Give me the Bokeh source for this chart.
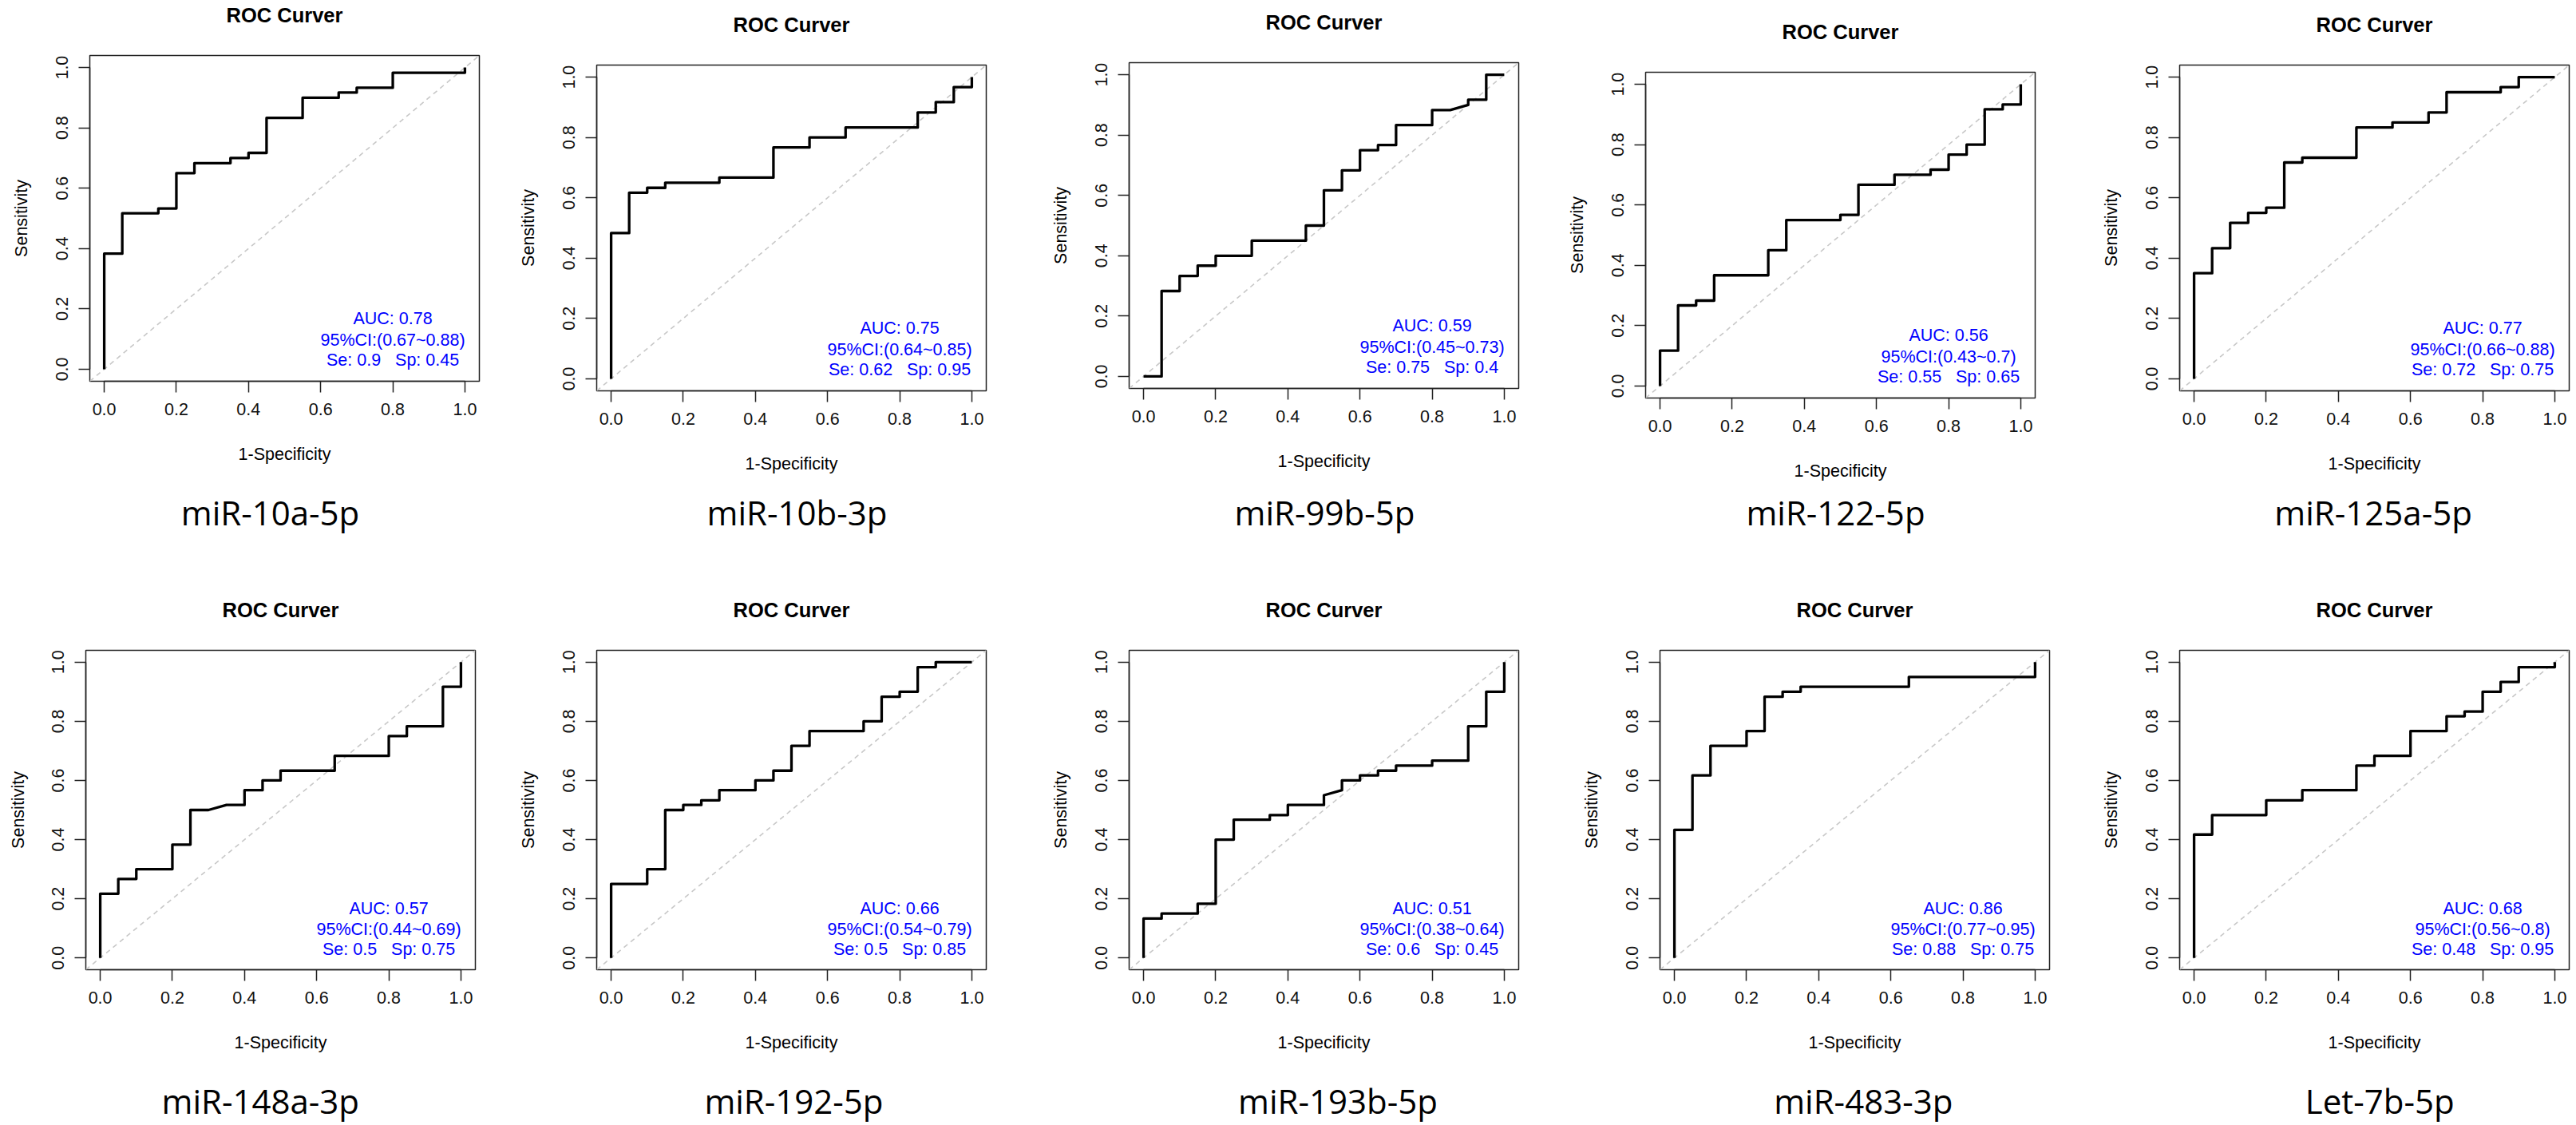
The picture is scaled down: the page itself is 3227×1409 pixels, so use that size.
import math
from bokeh.plotting import figure
from bokeh.models import (Slope, FixedTicker, NumeralTickFormatter, Range1d, LinearAxis,
                          CustomJSTickFormatter)
from bokeh.layouts import row, column
from bokeh.embed import file_html
from bokeh.resources import INLINE
from bokeh.core.properties import value

# ---------------- data ----------------
names = ["miR-10a-5p", "miR-10b-3p", "miR-99b-5p", "miR-122-5p", "miR-125a-5p",
         "miR-148a-3p", "miR-192-5p", "miR-193b-5p", "miR-483-3p", "Let-7b-5p"]
auc = [0.78, 0.75, 0.59, 0.56, 0.77, 0.57, 0.66, 0.51, 0.86, 0.68]
ci_low = [0.67, 0.64, 0.45, 0.43, 0.66, 0.44, 0.54, 0.38, 0.77, 0.56]
ci_high = [0.88, 0.85, 0.73, 0.7, 0.88, 0.69, 0.79, 0.64, 0.95, 0.8]
se = [0.9, 0.62, 0.75, 0.55, 0.72, 0.5, 0.5, 0.6, 0.88, 0.48]
sp = [0.45, 0.95, 0.4, 0.65, 0.75, 0.75, 0.85, 0.45, 0.75, 0.95]
tick_values = [0.0, 0.2, 0.4, 0.6, 0.8, 1.0]

# ROC points (1-specificity, sensitivity)
fpr_10a = [0, 0, 0.05, 0.05, 0.15, 0.15, 0.2, 0.2, 0.25, 0.25, 0.35, 0.35, 0.4, 0.4, 0.45, 0.45,
           0.55, 0.55, 0.65, 0.65, 0.7, 0.7, 0.8, 0.8, 1.0, 1.0]
tpr_10a = [0, 0.383, 0.383, 0.517, 0.517, 0.533, 0.533, 0.65, 0.65, 0.683, 0.683, 0.70, 0.70, 0.717,
           0.717, 0.833, 0.833, 0.90, 0.90, 0.917, 0.917, 0.933, 0.933, 0.983, 0.983, 1.0]

fpr_10b = [0, 0, 0.05, 0.05, 0.1, 0.1, 0.15, 0.15, 0.3, 0.3, 0.45, 0.45, 0.55, 0.55, 0.65, 0.65,
           0.85, 0.85, 0.9, 0.9, 0.95, 0.95, 1.0, 1.0]
tpr_10b = [0, 0.483, 0.483, 0.617, 0.617, 0.633, 0.633, 0.65, 0.65, 0.667, 0.667, 0.767, 0.767,
           0.80, 0.80, 0.833, 0.833, 0.883, 0.883, 0.917, 0.917, 0.967, 0.967, 1.0]

fpr_99b = [0, 0.05, 0.05, 0.1, 0.1, 0.15, 0.15, 0.2, 0.2, 0.3, 0.3, 0.45, 0.45, 0.5, 0.5, 0.55,
           0.55, 0.6, 0.6, 0.65, 0.65, 0.7, 0.7, 0.8, 0.8, 0.85, 0.9, 0.9, 0.95, 0.95, 1.0]
tpr_99b = [0, 0, 0.283, 0.283, 0.333, 0.333, 0.367, 0.367, 0.40, 0.40, 0.45, 0.45, 0.50, 0.50,
           0.617, 0.617, 0.683, 0.683, 0.75, 0.75, 0.767, 0.767, 0.833, 0.833, 0.883, 0.883,
           0.90, 0.917, 0.917, 1.0, 1.0]

fpr_122 = [0, 0, 0.05, 0.05, 0.1, 0.1, 0.15, 0.15, 0.3, 0.3, 0.35, 0.35, 0.5, 0.5, 0.55, 0.55,
           0.65, 0.65, 0.75, 0.75, 0.8, 0.8, 0.85, 0.85, 0.9, 0.9, 0.95, 0.95, 1.0, 1.0]
tpr_122 = [0, 0.117, 0.117, 0.267, 0.267, 0.283, 0.283, 0.367, 0.367, 0.45, 0.45, 0.55, 0.55,
           0.567, 0.567, 0.667, 0.667, 0.70, 0.70, 0.717, 0.717, 0.767, 0.767, 0.80, 0.80, 0.917,
           0.917, 0.933, 0.933, 1.0]

fpr_125a = [0, 0, 0.05, 0.05, 0.1, 0.1, 0.15, 0.15, 0.2, 0.2, 0.25, 0.25, 0.3, 0.3, 0.45, 0.45,
            0.55, 0.55, 0.65, 0.65, 0.7, 0.7, 0.85, 0.85, 0.9, 0.9, 1.0]
tpr_125a = [0, 0.35, 0.35, 0.433, 0.433, 0.517, 0.517, 0.55, 0.55, 0.567, 0.567, 0.717, 0.717,
            0.733, 0.733, 0.833, 0.833, 0.85, 0.85, 0.883, 0.883, 0.95, 0.95, 0.967, 0.967, 1.0, 1.0]

fpr_148a = [0, 0, 0.05, 0.05, 0.1, 0.1, 0.2, 0.2, 0.25, 0.25, 0.3, 0.35, 0.4, 0.4, 0.45, 0.45,
            0.5, 0.5, 0.65, 0.65, 0.8, 0.8, 0.85, 0.85, 0.95, 0.95, 1.0, 1.0]
tpr_148a = [0, 0.217, 0.217, 0.267, 0.267, 0.30, 0.30, 0.383, 0.383, 0.50, 0.50, 0.517, 0.517,
            0.567, 0.567, 0.60, 0.60, 0.633, 0.633, 0.683, 0.683, 0.75, 0.75, 0.783, 0.783, 0.917,
            0.917, 1.0]

fpr_192 = [0, 0, 0.1, 0.1, 0.15, 0.15, 0.2, 0.2, 0.25, 0.25, 0.3, 0.3, 0.4, 0.4, 0.45, 0.45,
           0.5, 0.5, 0.55, 0.55, 0.7, 0.7, 0.75, 0.75, 0.8, 0.8, 0.85, 0.85, 0.9, 0.9, 1.0]
tpr_192 = [0, 0.25, 0.25, 0.30, 0.30, 0.50, 0.50, 0.517, 0.517, 0.533, 0.533, 0.567, 0.567, 0.60,
           0.60, 0.633, 0.633, 0.717, 0.717, 0.767, 0.767, 0.80, 0.80, 0.883, 0.883, 0.90, 0.90,
           0.983, 0.983, 1.0, 1.0]

fpr_193b = [0, 0, 0.05, 0.05, 0.15, 0.15, 0.2, 0.2, 0.25, 0.25, 0.35, 0.35, 0.4, 0.4, 0.5, 0.5,
            0.55, 0.55, 0.6, 0.6, 0.65, 0.65, 0.7, 0.7, 0.8, 0.8, 0.9, 0.9, 0.95, 0.95, 1.0, 1.0]
tpr_193b = [0, 0.133, 0.133, 0.15, 0.15, 0.183, 0.183, 0.40, 0.40, 0.467, 0.467, 0.483, 0.483,
            0.517, 0.517, 0.55, 0.567, 0.60, 0.60, 0.617, 0.617, 0.633, 0.633, 0.65, 0.65, 0.667,
            0.667, 0.783, 0.783, 0.90, 0.90, 1.0]

fpr_483 = [0, 0, 0.05, 0.05, 0.1, 0.1, 0.2, 0.2, 0.25, 0.25, 0.3, 0.3, 0.35, 0.35, 0.65, 0.65,
           1.0, 1.0]
tpr_483 = [0, 0.433, 0.433, 0.617, 0.617, 0.717, 0.717, 0.767, 0.767, 0.883, 0.883, 0.90, 0.90,
           0.917, 0.917, 0.95, 0.95, 1.0]

fpr_let7b = [0, 0, 0.05, 0.05, 0.2, 0.2, 0.3, 0.3, 0.45, 0.45, 0.5, 0.5, 0.6, 0.6, 0.7, 0.7,
             0.75, 0.75, 0.8, 0.8, 0.85, 0.85, 0.9, 0.9, 1.0, 1.0]
tpr_let7b = [0, 0.417, 0.417, 0.483, 0.483, 0.533, 0.533, 0.567, 0.567, 0.65, 0.65, 0.683, 0.683,
             0.767, 0.767, 0.817, 0.817, 0.833, 0.833, 0.90, 0.90, 0.933, 0.933, 0.983, 0.983, 1.0]

fprs = [fpr_10a, fpr_10b, fpr_99b, fpr_122, fpr_125a, fpr_148a, fpr_192, fpr_193b, fpr_483, fpr_let7b]
tprs = [tpr_10a, tpr_10b, tpr_99b, tpr_122, tpr_125a, tpr_148a, tpr_192, tpr_193b, tpr_483, tpr_let7b]

# ---------------- layout (reference pixel positions) ----------------
MARGIN = 0          # Bokeh's page template sets the body margin to 0
CELL_W = [637, 653, 645, 645, 647]
ROW_H = [700, 709]
FRAME_W, FRAME_H = 488, 408
BOX_LEFT = [[111.6, 747.5, 1413.6, 2061.4, 2730.0], [107.4, 747.5, 1413.6, 2078.8, 2730.0]]
BOX_TOP = [[69.4, 80.8, 78.3, 90.1, 80.8], [814.4, 814.4, 814.4, 814.4, 814.4]]
LABEL_CX = [[338, 998, 1659, 2299, 2972.6], [325.8, 994, 1675.5, 2333.8, 2980.8]]
LABEL_BASE = [658, 1403]
STAT_X = 0.8
STAT_Y = [0.1665, 0.097, 0.030]

FONT = "Liberation Sans"
FSZ = 21.5
FS = f"{FSZ}px"
TFS = 25.5
NFS = 42
H = 1.15            # text box height / font size (approx)
LO, HI = -0.04, 1.04
px_x = FRAME_W / (HI - LO)
TICK_OUT, LAB_SO = 14, 13
XLAB_SO = 34
NBSP3 = "\u00a0\u00a0\u00a0"


def text_axis(p, side, x, label, font, size, style, standoff):
    ax = LinearAxis(ticker=FixedTicker(ticks=[x]),
                    formatter=CustomJSTickFormatter(args=dict(t=label), code="return t;"))
    ax.axis_line_color = None
    ax.major_tick_line_color = None
    ax.minor_tick_line_color = None
    ax.major_tick_out = 0
    ax.major_tick_in = 0
    ax.minor_tick_out = 0
    ax.minor_tick_in = 0
    ax.major_label_standoff = int(round(standoff))
    ax.major_label_text_font = font
    ax.major_label_text_font_size = f"{size}px"
    ax.major_label_text_font_style = style
    ax.major_label_text_color = "black"
    p.add_layout(ax, side)


rows = []
for r in range(2):
    figs = []
    oy = MARGIN + sum(ROW_H[:r])
    for c in range(5):
        i = r * 5 + c
        ox = MARGIN + sum(CELL_W[:c])
        left = int(round(BOX_LEFT[r][c] - ox))
        top = int(round(BOX_TOP[r][c] - oy))
        right = CELL_W[c] - left - FRAME_W
        bottom = ROW_H[r] - top - FRAME_H
        box_l = ox + left
        box_b = oy + top + FRAME_H

        p = figure(width=CELL_W[c], height=ROW_H[r],
                   x_range=Range1d(LO, HI), y_range=Range1d(LO, HI),
                   output_backend="svg", toolbar_location=None, title=None,
                   min_border_left=left, min_border_right=right,
                   min_border_top=top, min_border_bottom=bottom)
        p.frame_align = False
        p.background_fill_color = "white"
        p.border_fill_color = "white"
        p.outline_line_color = "#222222"
        p.outline_line_width = 1.5
        p.grid.visible = False

        for ax in (p.xaxis[0], p.yaxis[0]):
            ax.ticker = FixedTicker(ticks=tick_values)
            ax.formatter = NumeralTickFormatter(format="0.0")
            ax.bounds = (0, 1)
            ax.axis_line_color = "#222222"
            ax.axis_line_width = 1.5
            ax.major_tick_line_color = "#222222"
            ax.major_tick_line_width = 1.5
            ax.major_tick_in = 0
            ax.major_tick_out = TICK_OUT
            ax.minor_tick_in = 0
            ax.minor_tick_out = 0
            ax.major_label_standoff = LAB_SO
            ax.major_label_text_font = FONT
            ax.major_label_text_font_size = FS
            ax.major_label_text_color = "#111111"
            ax.axis_label_text_font = FONT
            ax.axis_label_text_font_size = FS
            ax.axis_label_text_font_style = "normal"
            ax.axis_label_text_color = "black"
        p.yaxis[0].major_label_orientation = "vertical"
        p.xaxis[0].axis_label = "1-Specificity"
        p.yaxis[0].axis_label = "Sensitivity"
        axis_core = TICK_OUT + LAB_SO + H * FSZ
        p.xaxis[0].axis_label_standoff = XLAB_SO
        p.yaxis[0].axis_label_standoff = int(max(0, min(29.5, left - axis_core - 1.2 * FSZ - 1)))

        # title above the box
        title_so = min(36.7, top - 1.2 * TFS - 1)
        text_axis(p, "above", 0.5, "ROC Curver", FONT, TFS, "bold", title_so)

        # marker name below the x axis
        xaxis_size = axis_core + XLAB_SO + H * FSZ
        name_so = (LABEL_BASE[r] - box_b) - 1.0 * NFS - xaxis_size
        lx = round(LO + (LABEL_CX[r][c] - box_l) / px_x, 4)
        text_axis(p, "below", lx, names[i], "Open Sans", NFS, "normal", max(0, name_so))

        p.add_layout(Slope(gradient=1, y_intercept=0, line_color="#c8c8c8",
                           line_dash="6 5", line_width=1.6, level="underlay"))

        p.line(fprs[i], tprs[i], line_color="black", line_width=3.3, line_join="round")

        stats = [f"AUC: {auc[i]}", f"95%CI:({ci_low[i]}~{ci_high[i]})",
                 f"Se: {se[i]}{NBSP3}Sp: {sp[i]}"]
        p.text(x=[STAT_X] * 3, y=STAT_Y, text=stats, text_align="center", text_baseline="middle",
               text_color="blue", text_font=value(FONT), text_font_size=FS)
        figs.append(p)
    rows.append(row(*figs))

layout = column(*rows)
open("out.html", "w").write(file_html(layout, INLINE, "ROC curves"))
